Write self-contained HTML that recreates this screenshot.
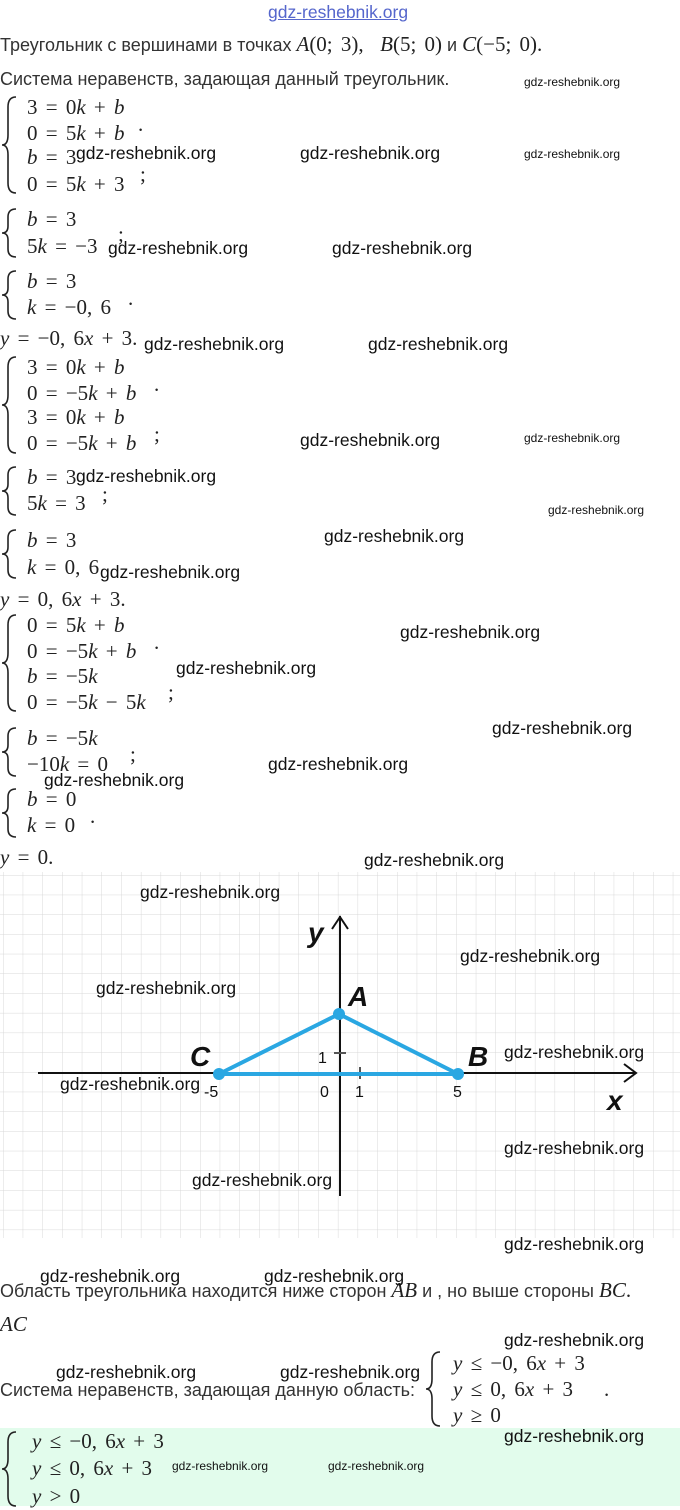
<!DOCTYPE html>
<html><head><meta charset="utf-8"><style>
body{margin:0;width:680px;height:1506px;position:relative;background:#fff;overflow:hidden;font-family:"Liberation Sans",sans-serif;color:#222}
.a{position:absolute;white-space:nowrap}
.m{font-family:"Liberation Serif",serif;font-size:21px;color:#222;word-spacing:3px}
.m i{font-style:italic}
.t{font-size:18px;color:#333}
.w{font-family:"Liberation Sans",sans-serif;font-size:17.5px;color:#111}
.ws{font-family:"Liberation Sans",sans-serif;font-size:12px;color:#111}
svg.br{position:absolute}
</style></head><body>
<div class="a" style="left:268px;top:2px;font-size:17.5px;color:#5566cc;text-decoration:underline">gdz-reshebnik.org</div>
<div class="a t" style="left:0;top:32px">Треугольник с вершинами в точках <span class="m"><i>A</i>(0; 3), &nbsp;<i>B</i>(5; 0)</span> и <span class="m"><i>C</i>(−5; 0).</span></div>
<div class="a t" style="left:0;top:69px">Система неравенств, задающая данный треугольник.</div>
<div class="a ws" style="left:524px;top:75px">gdz-reshebnik.org</div>

<!-- system 1 -->
<svg class="br" style="left:0;top:95px" width="22" height="100"><path d="M16 2 Q8 2 8 12 L8 40 Q8 50 2 50 Q8 50 8 60 L8 88 Q8 98 16 98" fill="none" stroke="#222" stroke-width="1.6"/></svg>
<div class="a m" style="left:27px;top:95px">3 = 0<i>k</i> + <i>b</i></div>
<div class="a m" style="left:27px;top:121px">0 = 5<i>k</i> + <i>b</i></div>
<div class="a m" style="left:138px;top:112px">.</div>
<div class="a m" style="left:27px;top:145px"><i>b</i> = 3</div>
<div class="a m" style="left:27px;top:172px">0 = 5<i>k</i> + 3</div>
<div class="a m" style="left:140px;top:162px">;</div>
<div class="a w" style="left:76px;top:143px">gdz-reshebnik.org</div>
<div class="a w" style="left:300px;top:143px">gdz-reshebnik.org</div>
<div class="a ws" style="left:524px;top:147px">gdz-reshebnik.org</div>

<svg class="br" style="left:0;top:207px" width="22" height="52"><path d="M16 2 Q8 2 8 10 L8 19 Q8 26 2 26 Q8 26 8 33 L8 42 Q8 50 16 50" fill="none" stroke="#222" stroke-width="1.6"/></svg>
<div class="a m" style="left:27px;top:207px"><i>b</i> = 3</div>
<div class="a m" style="left:27px;top:234px">5<i>k</i> = −3</div>
<div class="a m" style="left:118px;top:222px">;</div>
<div class="a w" style="left:108px;top:238px">gdz-reshebnik.org</div>
<div class="a w" style="left:332px;top:238px">gdz-reshebnik.org</div>

<svg class="br" style="left:0;top:269px" width="22" height="52"><path d="M16 2 Q8 2 8 10 L8 19 Q8 26 2 26 Q8 26 8 33 L8 42 Q8 50 16 50" fill="none" stroke="#222" stroke-width="1.6"/></svg>
<div class="a m" style="left:27px;top:269px"><i>b</i> = 3</div>
<div class="a m" style="left:27px;top:295px"><i>k</i> = −0, 6</div>
<div class="a m" style="left:128px;top:286px">.</div>
<div class="a m" style="left:0;top:326px"><i>y</i> = −0, 6<i>x</i> + 3.</div>
<div class="a w" style="left:144px;top:334px">gdz-reshebnik.org</div>
<div class="a w" style="left:368px;top:334px">gdz-reshebnik.org</div>

<!-- system 2 -->
<svg class="br" style="left:0;top:355px" width="22" height="100"><path d="M16 2 Q8 2 8 12 L8 40 Q8 50 2 50 Q8 50 8 60 L8 88 Q8 98 16 98" fill="none" stroke="#222" stroke-width="1.6"/></svg>
<div class="a m" style="left:27px;top:355px">3 = 0<i>k</i> + <i>b</i></div>
<div class="a m" style="left:27px;top:381px">0 = −5<i>k</i> + <i>b</i></div>
<div class="a m" style="left:154px;top:372px">.</div>
<div class="a m" style="left:27px;top:405px">3 = 0<i>k</i> + <i>b</i></div>
<div class="a m" style="left:27px;top:431px">0 = −5<i>k</i> + <i>b</i></div>
<div class="a m" style="left:154px;top:422px">;</div>
<div class="a w" style="left:300px;top:430px">gdz-reshebnik.org</div>
<div class="a ws" style="left:524px;top:431px">gdz-reshebnik.org</div>

<svg class="br" style="left:0;top:465px" width="22" height="52"><path d="M16 2 Q8 2 8 10 L8 19 Q8 26 2 26 Q8 26 8 33 L8 42 Q8 50 16 50" fill="none" stroke="#222" stroke-width="1.6"/></svg>
<div class="a m" style="left:27px;top:465px"><i>b</i> = 3</div>
<div class="a m" style="left:27px;top:491px">5<i>k</i> = 3</div>
<div class="a m" style="left:102px;top:482px">;</div>
<div class="a w" style="left:76px;top:466px">gdz-reshebnik.org</div>
<div class="a ws" style="left:548px;top:503px">gdz-reshebnik.org</div>

<svg class="br" style="left:0;top:528px" width="22" height="52"><path d="M16 2 Q8 2 8 10 L8 19 Q8 26 2 26 Q8 26 8 33 L8 42 Q8 50 16 50" fill="none" stroke="#222" stroke-width="1.6"/></svg>
<div class="a m" style="left:27px;top:528px"><i>b</i> = 3</div>
<div class="a m" style="left:27px;top:555px"><i>k</i> = 0, 6</div>
<div class="a w" style="left:324px;top:526px">gdz-reshebnik.org</div>
<div class="a w" style="left:100px;top:562px">gdz-reshebnik.org</div>
<div class="a m" style="left:0;top:587px"><i>y</i> = 0, 6<i>x</i> + 3.</div>

<!-- system 3 -->
<svg class="br" style="left:0;top:613px" width="22" height="100"><path d="M16 2 Q8 2 8 12 L8 40 Q8 50 2 50 Q8 50 8 60 L8 88 Q8 98 16 98" fill="none" stroke="#222" stroke-width="1.6"/></svg>
<div class="a m" style="left:27px;top:613px">0 = 5<i>k</i> + <i>b</i></div>
<div class="a m" style="left:27px;top:639px">0 = −5<i>k</i> + <i>b</i></div>
<div class="a m" style="left:154px;top:630px">.</div>
<div class="a m" style="left:27px;top:664px"><i>b</i> = −5<i>k</i></div>
<div class="a m" style="left:27px;top:690px">0 = −5<i>k</i> − 5<i>k</i></div>
<div class="a m" style="left:168px;top:680px">;</div>
<div class="a w" style="left:400px;top:622px">gdz-reshebnik.org</div>
<div class="a w" style="left:176px;top:658px">gdz-reshebnik.org</div>
<div class="a w" style="left:492px;top:718px">gdz-reshebnik.org</div>

<svg class="br" style="left:0;top:726px" width="22" height="52"><path d="M16 2 Q8 2 8 10 L8 19 Q8 26 2 26 Q8 26 8 33 L8 42 Q8 50 16 50" fill="none" stroke="#222" stroke-width="1.6"/></svg>
<div class="a m" style="left:27px;top:726px"><i>b</i> = −5<i>k</i></div>
<div class="a m" style="left:27px;top:752px">−10<i>k</i> = 0</div>
<div class="a m" style="left:130px;top:742px">;</div>
<div class="a w" style="left:268px;top:754px">gdz-reshebnik.org</div>
<div class="a w" style="left:44px;top:770px">gdz-reshebnik.org</div>

<svg class="br" style="left:0;top:787px" width="22" height="52"><path d="M16 2 Q8 2 8 10 L8 19 Q8 26 2 26 Q8 26 8 33 L8 42 Q8 50 16 50" fill="none" stroke="#222" stroke-width="1.6"/></svg>
<div class="a m" style="left:27px;top:787px"><i>b</i> = 0</div>
<div class="a m" style="left:27px;top:813px"><i>k</i> = 0</div>
<div class="a m" style="left:90px;top:804px">.</div>
<div class="a m" style="left:0;top:845px"><i>y</i> = 0.</div>
<div class="a w" style="left:364px;top:850px">gdz-reshebnik.org</div>

<!-- graph -->
<svg class="a" style="left:0;top:872px" width="680" height="366">
<defs><pattern id="g" width="19.7" height="19.7" patternUnits="userSpaceOnUse" x="3" y="3"><path d="M19.7 0 L0 0 0 19.7" fill="none" stroke="#d8d8d8" stroke-width="1"/></pattern></defs>
<rect width="680" height="366" fill="url(#g)"/>
<line x1="38" y1="201" x2="636" y2="201" stroke="#111" stroke-width="2"/>
<path d="M624 192 L636 201 L624 210" fill="none" stroke="#111" stroke-width="2"/>
<line x1="340" y1="324" x2="340" y2="44" stroke="#111" stroke-width="2"/>
<path d="M332 57 L340 45 L348 57" fill="none" stroke="#111" stroke-width="2"/>
<line x1="334" y1="181" x2="346" y2="181" stroke="#555" stroke-width="2"/>
<line x1="360" y1="195" x2="360" y2="207" stroke="#555" stroke-width="2"/>
<path d="M219 202 L339 142 L458 202 Z" fill="none" stroke="#2aa7e2" stroke-width="4" stroke-linejoin="round"/>
<circle cx="219" cy="202" r="6" fill="#2aa7e2"/><circle cx="339" cy="142" r="6" fill="#2aa7e2"/><circle cx="458" cy="202" r="6" fill="#2aa7e2"/>
<g font-family="Liberation Sans,sans-serif" font-style="italic" font-weight="bold" font-size="28" fill="#111">
<text x="308" y="70">y</text><text x="348" y="134">A</text><text x="190" y="194">C</text><text x="468" y="194">B</text><text x="607" y="238">x</text></g>
<g font-family="Liberation Sans,sans-serif" font-size="16" fill="#111">
<text x="318" y="191">1</text><text x="204" y="225">-5</text><text x="320" y="225">0</text><text x="355" y="225">1</text><text x="453" y="225">5</text></g>
</svg>
<div class="a w" style="left:140px;top:882px">gdz-reshebnik.org</div>
<div class="a w" style="left:460px;top:946px">gdz-reshebnik.org</div>
<div class="a w" style="left:96px;top:978px">gdz-reshebnik.org</div>
<div class="a w" style="left:504px;top:1042px">gdz-reshebnik.org</div>
<div class="a w" style="left:60px;top:1074px">gdz-reshebnik.org</div>
<div class="a w" style="left:504px;top:1138px">gdz-reshebnik.org</div>
<div class="a w" style="left:192px;top:1170px">gdz-reshebnik.org</div>
<div class="a w" style="left:504px;top:1234px">gdz-reshebnik.org</div>

<div class="a t" style="left:0;top:1278px">Область треугольника находится ниже сторон <span class="m"><i>AB</i></span> и , но выше стороны <span class="m"><i>BC</i>.</span></div>
<div class="a w" style="left:40px;top:1266px">gdz-reshebnik.org</div>
<div class="a w" style="left:264px;top:1266px">gdz-reshebnik.org</div>
<div class="a m" style="left:0;top:1312px"><i>AC</i></div>
<div class="a w" style="left:504px;top:1330px">gdz-reshebnik.org</div>
<div class="a w" style="left:56px;top:1362px">gdz-reshebnik.org</div>
<div class="a w" style="left:280px;top:1362px">gdz-reshebnik.org</div>
<div class="a t" style="left:0;top:1380px">Система неравенств, задающая данную область:</div>
<svg class="br" style="left:424px;top:1350px" width="22" height="78"><path d="M16 2 Q8 2 8 12 L8 29 Q8 39 2 39 Q8 39 8 49 L8 66 Q8 76 16 76" fill="none" stroke="#222" stroke-width="1.6"/></svg>
<div class="a m" style="left:453px;top:1351px"><i>y</i> ≤ −0, 6<i>x</i> + 3</div>
<div class="a m" style="left:453px;top:1377px"><i>y</i> ≤ 0, 6<i>x</i> + 3</div>
<div class="a m" style="left:604px;top:1377px">.</div>
<div class="a m" style="left:453px;top:1403px"><i>y</i> ≥ 0</div>

<div class="a" style="left:0;top:1428px;width:680px;height:78px;background:#e2fcec"></div>
<svg class="br" style="left:0;top:1430px" width="22" height="80"><path d="M16 2 Q8 2 8 12 L8 29 Q8 39 2 39 Q8 39 8 49 L8 66 Q8 76 16 76" fill="none" stroke="#222" stroke-width="1.6"/></svg>
<div class="a m" style="left:32px;top:1429px"><i>y</i> ≤ −0, 6<i>x</i> + 3</div>
<div class="a m" style="left:32px;top:1456px"><i>y</i> ≤ 0, 6<i>x</i> + 3</div>
<div class="a m" style="left:32px;top:1484px"><i>y</i> &gt; 0</div>
<div class="a w" style="left:504px;top:1426px">gdz-reshebnik.org</div>
<div class="a ws" style="left:172px;top:1459px">gdz-reshebnik.org</div>
<div class="a ws" style="left:328px;top:1459px">gdz-reshebnik.org</div>
</body></html>
